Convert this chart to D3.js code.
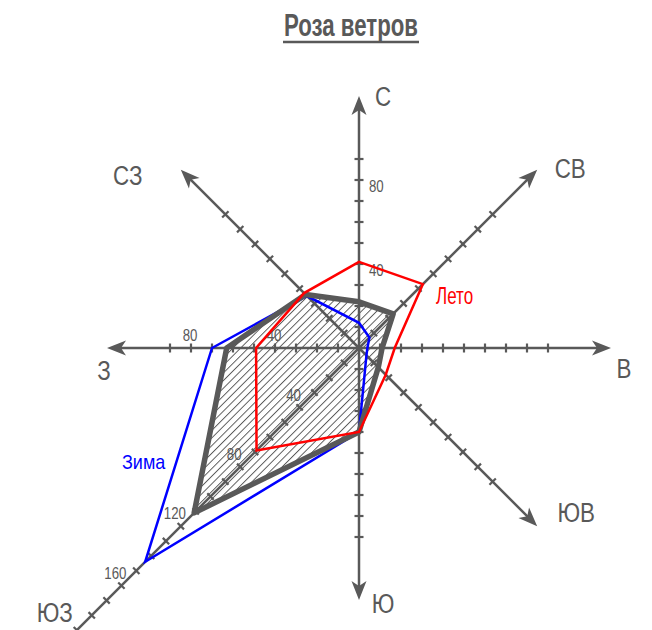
<!DOCTYPE html>
<html><head><meta charset="utf-8">
<script src="https://cdn.jsdelivr.net/npm/d3@7"></script>
<style>body{margin:0;background:#fff}svg{display:block}</style>
</head><body>
<svg id="c" width="652" height="630"></svg>
<script>
// ---- data ----
const directions = ["С","СВ","В","ЮВ","Ю","ЮЗ","З","СЗ"];
const angles = [0,45,90,135,180,225,270,315];
const summer = [41,43,17,18,40,69,49,37];   // Лето
const winter = [12,7,4,5,40,144,70,35];     // Зима
const year   = [22,23,11,13,40,111,63,36];  // hatched
const axisMax = [120,120,120,120,120,210,120,120];
const tickMax = [90,90,90,90,90,200,90,90];
const tickStep = 10;
const labelTicksN = [40,80];
const labelTicksW = [40,80];
const labelTicksSW = [40,80,120,160];

// ---- layout ----
const W = 652, H = 630, cx = 359, cy = 348;
const grey = "#595959";
const r = d3.scaleLinear().domain([0,120]).range([0,252]);
const svg = d3.select("#c");
const rad = a => a*Math.PI/180;
const pt = (a,v) => [cx + r(v)*Math.sin(rad(a)), cy - r(v)*Math.cos(rad(a))];

const defs = svg.append("defs");
const pat = defs.append("pattern").attr("id","hatch").attr("patternUnits","userSpaceOnUse")
  .attr("width",5.4).attr("height",5.4).attr("patternTransform","rotate(45)");
pat.append("line").attr("x1",0).attr("y1",0).attr("x2",0).attr("y2",5.4)
  .attr("stroke",grey).attr("stroke-width",1.9);

function txt(g, x, y, s, opts){
  const t = g.append("text")
    .attr("transform",`translate(${x},${y}) scale(${opts.sx||0.8},1)`)
    .attr("text-anchor",opts.anchor||"middle")
    .attr("dominant-baseline","central")
    .attr("font-family","'Liberation Sans', Arial, sans-serif")
    .attr("font-size",opts.size)
    .attr("font-weight",opts.weight||"normal")
    .attr("fill",opts.color||grey)
    .text(s);
  return t;
}

// title
svg.append("text").attr("x",351).attr("y",36)
  .attr("text-anchor","middle").attr("font-family","'Liberation Sans', Arial, sans-serif")
  .attr("font-size",31).attr("font-weight","bold").attr("fill",grey)
  .attr("textLength",134).attr("lengthAdjust","spacingAndGlyphs").text("Роза ветров");
svg.append("line").attr("x1",283).attr("x2",419).attr("y1",42).attr("y2",42)
  .attr("stroke",grey).attr("stroke-width",2.5);

const line = d3.line().curve(d3.curveLinearClosed);
const poly = vals => line(vals.map((v,i)=>pt(angles[i],v)));

// hatched fill
svg.append("path").attr("d",poly(year)).attr("fill","url(#hatch)").attr("stroke","none");

// axes
const gAx = svg.append("g");
angles.forEach((a,i)=>{
  const len = r(axisMax[i]);
  const ux = Math.sin(rad(a)), uy = -Math.cos(rad(a));
  const px = -uy, py = ux;
  gAx.append("line").attr("x1",cx).attr("y1",cy)
    .attr("x2",cx+ux*(len-10)).attr("y2",cy+uy*(len-10))
    .attr("stroke",grey).attr("stroke-width",2.5);
  const tip=[cx+ux*len, cy+uy*len];
  const back=len-19, notch=len-14, hw=7.5;
  gAx.append("path").attr("d",
    `M${tip[0]},${tip[1]}L${cx+ux*back+px*hw},${cy+uy*back+py*hw}L${cx+ux*notch},${cy+uy*notch}L${cx+ux*back-px*hw},${cy+uy*back-py*hw}Z`)
    .attr("fill",grey);
  d3.range(tickStep, tickMax[i]+1, tickStep).forEach(v=>{
    const d=r(v), h=4.5;
    gAx.append("line")
      .attr("x1",cx+ux*d+px*h).attr("y1",cy+uy*d+py*h)
      .attr("x2",cx+ux*d-px*h).attr("y2",cy+uy*d-py*h)
      .attr("stroke",grey).attr("stroke-width",2.2);
  });
});

// tick labels
labelTicksN.forEach(v=>{ const p=pt(0,v); txt(gAx,p[0]+10,p[1]+6,String(v),{size:17,sx:0.78,anchor:"start"}); });
labelTicksW.forEach(v=>{ const p=pt(270,v); txt(gAx,p[0]-1,p[1]-13,String(v),{size:17,sx:0.78}); });
labelTicksSW.forEach(v=>{ const p=pt(225,v); txt(gAx,p[0]-6,p[1]-13,String(v),{size:17,sx:0.78}); });

// direction labels
const dirOff = [[24,0],[33,-2],[13,20],[39,-14],[24,3],[-126,86],[-3,22],[-53,5]];
directions.forEach((d,i)=>{
  const p = pt(angles[i],120);
  txt(svg,p[0]+dirOff[i][0],p[1]+dirOff[i][1],d,{size:28,sx:0.8});
});

// series
svg.append("path").attr("d",poly(winter)).attr("fill","none").attr("stroke","#0000ff")
  .attr("stroke-width",2.5).attr("stroke-linejoin","miter");
svg.append("path").attr("d",poly(year)).attr("fill","none").attr("stroke",grey)
  .attr("stroke-width",5.5).attr("stroke-linejoin","round");
svg.append("path").attr("d",poly(summer)).attr("fill","none").attr("stroke","#ff0000")
  .attr("stroke-width",2.5).attr("stroke-linejoin","miter");

txt(svg,436,296,"Лето",{size:23,sx:0.74,anchor:"start",color:"#ff0000"});
txt(svg,122,462,"Зима",{size:20,sx:0.9,anchor:"start",color:"#0000ff"});
</script>
</body></html>
